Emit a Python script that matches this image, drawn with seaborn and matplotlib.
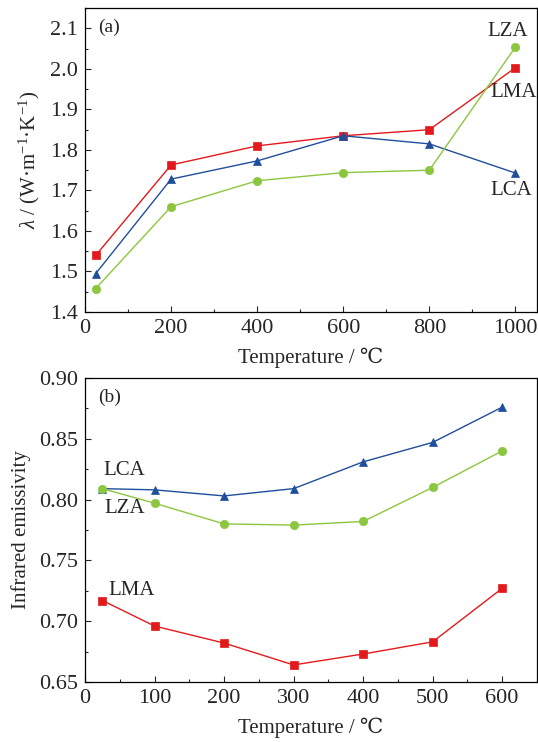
import matplotlib
matplotlib.use("Agg")
import matplotlib.pyplot as plt
import seaborn as sns
import numpy as np
from matplotlib.ticker import MultipleLocator

sns.set_style("ticks")
plt.rcParams['font.family'] = ['Liberation Serif', 'DejaVu Serif', 'DejaVu Sans']
plt.rcParams['mathtext.fontset'] = 'custom'
plt.rcParams['mathtext.rm'] = 'Liberation Serif'
plt.rcParams['mathtext.it'] = 'Liberation Serif:italic'

# Panel (a): thermal conductivity
temp_a = [25, 200, 400, 600, 800, 1000]
lma_a = [1.540, 1.763, 1.810, 1.835, 1.850, 2.003]
lca_a = [1.495, 1.728, 1.773, 1.835, 1.815, 1.743]
lza_a = [1.458, 1.660, 1.724, 1.744, 1.750, 2.054]

# Panel (b): infrared emissivity
temp_b = [25, 100, 200, 300, 400, 500, 600]
lca_b = [0.809, 0.808, 0.803, 0.809, 0.831, 0.847, 0.876]
lza_b = [0.809, 0.797, 0.780, 0.779, 0.782, 0.810, 0.840]
lma_b = [0.717, 0.696, 0.682, 0.664, 0.673, 0.683, 0.727]

RED = '#e31a1c'
BLUE = '#1f4e9c'
GREEN = '#8cc63f'

fig = plt.figure(figsize=(5.38, 7.42), dpi=100)
ax1 = fig.add_axes([0.158, 0.5795, 0.840, 0.4095])
ax2 = fig.add_axes([0.158, 0.0809, 0.840, 0.4097])

TICK_FS = 16
LABEL_FS = 15
ANN_FS = 15

def series(ax, x, y, color, marker, ms):
    sns.lineplot(x=x, y=y, ax=ax, color=color, marker=marker, markersize=ms,
                 markeredgecolor=color, markeredgewidth=0.5, linewidth=1.0)

series(ax1, temp_a, lma_a, RED, 's', 5.2)
series(ax1, temp_a, lca_a, BLUE, '^', 6)
series(ax1, temp_a, lza_a, GREEN, 'o', 6)

series(ax2, temp_b, lma_b, RED, 's', 5.2)
series(ax2, temp_b, lca_b, BLUE, '^', 6)
series(ax2, temp_b, lza_b, GREEN, 'o', 6)

ax1.set_xlim(0, 1050)
ax1.set_ylim(1.4, 2.15)
ax1.set_xticks([0, 200, 400, 600, 800, 1000])
ax1.xaxis.set_minor_locator(MultipleLocator(100))
ax1.set_yticks([1.4, 1.5, 1.6, 1.7, 1.8, 1.9, 2.0, 2.1])
ax1.yaxis.set_minor_locator(MultipleLocator(0.05))
ax1.set_yticklabels(['1.4', '1.5', '1.6', '1.7', '1.8', '1.9', '2.0', '2.1'])
ax1.set_xlabel('Temperature / ℃', fontsize=LABEL_FS, labelpad=7)
ax1.set_ylabel(r'$\mathit{\lambda}$ / (W·m$^{-1}$·K$^{-1}$)', fontsize=LABEL_FS, labelpad=6)

ax2.set_xlim(0, 650)
ax2.set_ylim(0.65, 0.90)
ax2.set_xticks([0, 100, 200, 300, 400, 500, 600])
ax2.xaxis.set_minor_locator(MultipleLocator(50))
ax2.set_yticks([0.65, 0.70, 0.75, 0.80, 0.85, 0.90])
ax2.set_yticklabels(['0.65', '0.70', '0.75', '0.80', '0.85', '0.90'])
ax2.yaxis.set_minor_locator(MultipleLocator(0.025))
ax2.set_xlabel('Temperature / ℃', fontsize=LABEL_FS, labelpad=7)
ax2.set_ylabel('Infrared emissivity', fontsize=LABEL_FS, labelpad=6)

for ax in (ax1, ax2):
    ax.tick_params(axis='both', which='both', direction='in', top=False, right=False,
                   labelsize=TICK_FS, pad=5)
    ax.tick_params(which='major', length=4, width=0.8)
    ax.tick_params(which='minor', length=2.5, width=0.8)
    for s in ax.spines.values():
        s.set_visible(True)
        s.set_linewidth(0.9)
        s.set_color('black')

# Annotations panel (a)
ax1.text(0.03, 0.965, '(a)', transform=ax1.transAxes, fontsize=ANN_FS-1, va='top', ha='left')
ax1.text(0.936, 0.924, 'LZA', transform=ax1.transAxes, fontsize=ANN_FS, va='center', ha='center')
ax1.text(0.948, 0.724, 'LMA', transform=ax1.transAxes, fontsize=ANN_FS, va='center', ha='center')
ax1.text(0.943, 0.40, 'LCA', transform=ax1.transAxes, fontsize=ANN_FS, va='center', ha='center')

# Annotations panel (b)
ax2.text(0.03, 0.965, '(b)', transform=ax2.transAxes, fontsize=ANN_FS-1, va='top', ha='left')
ax2.text(0.086, 0.697, 'LCA', transform=ax2.transAxes, fontsize=ANN_FS, va='center', ha='center')
ax2.text(0.088, 0.572, 'LZA', transform=ax2.transAxes, fontsize=ANN_FS, va='center', ha='center')
ax2.text(0.104, 0.30, 'LMA', transform=ax2.transAxes, fontsize=ANN_FS, va='center', ha='center')

fig.savefig('out.png', dpi=100)
